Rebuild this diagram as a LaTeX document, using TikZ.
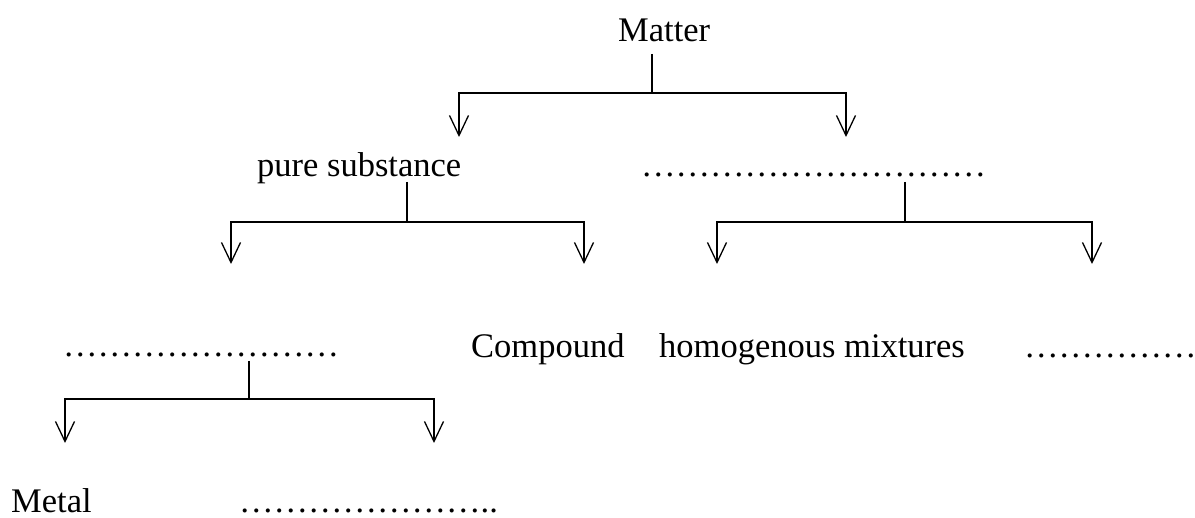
\documentclass[tikz,border=0pt]{standalone}
\usepackage{fontspec}
\setmainfont{Liberation Serif}
\usetikzlibrary{arrows.meta}
\newcommand\Ell{…}
\begin{document}
\begin{tikzpicture}[x=1pt,y=1pt,
  lbl/.style={inner sep=0pt,anchor=base west,font=\fontsize{34.5}{40}\selectfont},
  conn/.style={line width=1.3pt},
  arr/.style={conn,-{Straight Barb[length=20pt,width=19pt,line width=1.3pt]}}]
\useasboundingbox (0,0) rectangle (1195,-518);
% texts
\node[lbl] (matter) at (618,-42) {Matter};
\node[lbl] (pure) at (257,-177) {pure substance};
\node[lbl] (mix) at (641,-177) {\Ell\Ell\Ell\Ell\Ell\Ell\Ell\Ell\Ell\Ell};
\node[lbl] (blank1) at (63,-357) {\Ell\Ell\Ell\Ell\Ell\Ell\Ell\Ell};
\node[lbl] (comp) at (471,-358) {Compound};
\node[lbl] (homo) at (659,-358) {homogenous mixtures};
\node[lbl] (blank2) at (1024,-358) {\Ell\Ell\Ell\Ell\Ell};
\node[lbl] (metal) at (11,-513) {Metal};
\node[lbl] (blank3) at (239,-513) {\Ell\Ell\Ell\Ell\Ell\Ell\Ell..};
% branch coordinates
\coordinate (m0) at (652,-54);
\coordinate (m1) at (652,-93);
\coordinate (mL) at (459,-137);
\coordinate (mR) at (846,-137);
\coordinate (p0) at (407,-182);
\coordinate (p1) at (407,-222);
\coordinate (pL) at (231,-264);
\coordinate (pR) at (584,-264);
\coordinate (x0) at (905,-182);
\coordinate (x1) at (905,-222);
\coordinate (xL) at (717,-264);
\coordinate (xR) at (1092,-264);
\coordinate (b0) at (249,-361);
\coordinate (b1) at (249,-399);
\coordinate (bL) at (65,-443);
\coordinate (bR) at (434,-443);
% connectors
\draw[conn] (m0) -- (m1);
\draw[arr] (m1) -| (mL);
\draw[arr] (m1) -| (mR);
\draw[conn] (p0) -- (p1);
\draw[arr] (p1) -| (pL);
\draw[arr] (p1) -| (pR);
\draw[conn] (x0) -- (x1);
\draw[arr] (x1) -| (xL);
\draw[arr] (x1) -| (xR);
\draw[conn] (b0) -- (b1);
\draw[arr] (b1) -| (bL);
\draw[arr] (b1) -| (bR);
\end{tikzpicture}
\end{document}
